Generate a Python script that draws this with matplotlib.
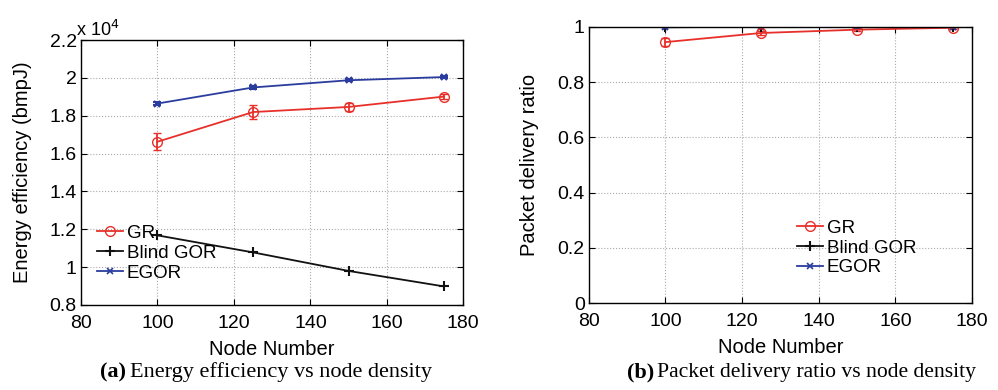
import matplotlib
matplotlib.use("Agg")
from matplotlib import pyplot as plt
from matplotlib.lines import Line2D
from matplotlib.ticker import FuncFormatter

plt.rcParams['font.family'] = ['Liberation Sans', 'DejaVu Sans']

nodes = [100, 125, 150, 175]

# energy efficiency (bmpJ)
gr_energy = [16630, 18200, 18470, 19020]
gr_energy_err = [450, 350, 200, 150]
blind_energy = [11680, 10780, 9800, 8980]
egor_energy = [18650, 19500, 19880, 20050]
egor_energy_err = [100, 80, 60, 50]

# packet delivery ratio
gr_pdr = [0.945, 0.978, 0.990, 0.997]
gr_pdr_err = [0.015, 0.008, 0.005, 0.003]
blind_pdr = [0.999, 1.0, 1.0, 1.0]
egor_pdr = [0.999, 1.0, 1.0, 1.0]

labels = ['GR', 'Blind GOR', 'EGOR']

RED = '#e8302a'
BLUE = '#2a3d9e'
BLACK = '#111111'

fig = plt.figure(figsize=(9.98, 3.9), dpi=100)
ax1 = fig.add_axes([0.0812, 0.218, 0.383, 0.679])
ax2 = fig.add_axes([0.590, 0.223, 0.384, 0.708])


def style(ax):
    ax.grid(True, linestyle=':', color='#aaaaaa', linewidth=0.8)
    ax.tick_params(direction='in', top=True, right=True, labelsize=14, length=4)
    ax.tick_params(axis='x', pad=7)
    ax.tick_params(axis='y', pad=3)
    for s in ax.spines.values():
        s.set_linewidth(1.0)
    ax.set_xlim(80, 180)
    ax.set_xticks([80, 100, 120, 140, 160, 180])
    ax.set_xlabel('Node Number', fontsize=14.5, labelpad=6)


def legend(ax, x, y):
    handles = [Line2D([], [], color=RED, marker='o', mfc='none', ms=7, lw=1.3),
               Line2D([], [], color=BLACK, marker='+', ms=7, mew=1.5, lw=1.3),
               Line2D([], [], color=BLUE, marker='x', ms=4, mew=1.2, lw=1.3)]
    ax.legend(handles, labels, loc='center left', bbox_to_anchor=(x, y),
              bbox_transform=fig.transFigure, frameon=False, fontsize=13.5,
              handlelength=1.4, handletextpad=0.2, labelspacing=0.15,
              borderpad=0, borderaxespad=0)


# (a)
ax1.errorbar(nodes, gr_energy, yerr=gr_energy_err, color=RED, marker='o', mfc='none',
             ms=7, lw=1.3, capsize=3)
ax1.plot(nodes, blind_energy, color=BLACK, marker='+', ms=7, mew=1.5, lw=1.3)
ax1.errorbar(nodes, egor_energy, yerr=egor_energy_err, color=BLUE, marker='x', ms=5, mew=1.5,
             lw=1.3, capsize=3)
style(ax1)
ax1.set_ylim(8000, 22000)
ax1.set_yticks([8000, 10000, 12000, 14000, 16000, 18000, 20000, 22000])
ax1.yaxis.set_major_formatter(FuncFormatter(lambda v, p: '%g' % (v / 1e4)))
ax1.set_ylabel('Energy efficiency (bmpJ)', fontsize=14.5, labelpad=13)
ax1.text(-0.012, 1.0, 'x 10$^4$', transform=ax1.transAxes, fontsize=13, va='bottom')
legend(ax1, 97 / 998, 1 - 253 / 390)

# (b)
ax2.errorbar(nodes, gr_pdr, yerr=gr_pdr_err, color=RED, marker='o', mfc='none',
             ms=7, lw=1.3, capsize=3)
ax2.plot(nodes, blind_pdr, color=BLACK, marker='+', ms=7, mew=1.5, lw=1.3)
ax2.plot(nodes, egor_pdr, color=BLUE, marker='x', ms=5, mew=1.5, lw=1.3)
style(ax2)
ax2.set_ylim(0, 1)
ax2.set_yticks([0, 0.2, 0.4, 0.6, 0.8, 1])
ax2.yaxis.set_major_formatter(FuncFormatter(lambda v, p: '%g' % v))
ax2.set_ylabel('Packet delivery ratio', fontsize=14.5, labelpad=13)
legend(ax2, 797 / 998, 1 - 248 / 390)

serif = ['Liberation Serif', 'DejaVu Serif']
fig.text(0.100, 0.045, '(a)', fontsize=16, fontweight='bold', family=serif, va='center')
fig.text(0.130, 0.045, 'Energy efficiency vs node density', fontsize=16, family=serif,
         va='center')
fig.text(0.628, 0.045, '(b)', fontsize=16, fontweight='bold', family=serif, va='center')
fig.text(0.658, 0.045, 'Packet delivery ratio vs node density', fontsize=15.6, family=serif,
         va='center')

fig.savefig('out.png', dpi=100)
